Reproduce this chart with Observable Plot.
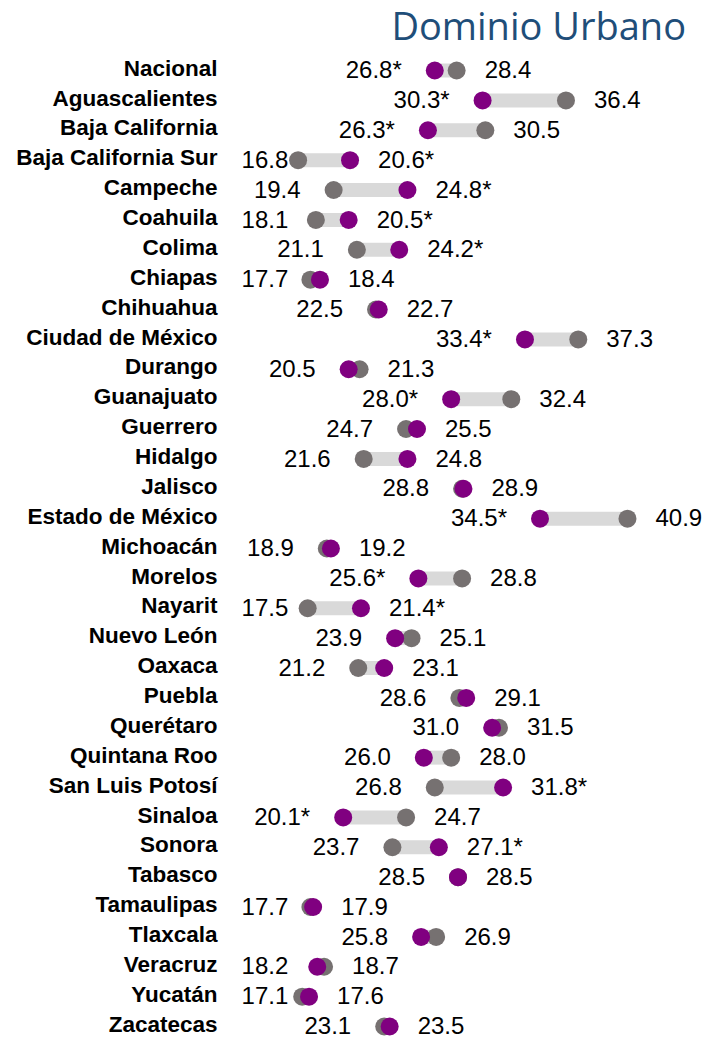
<!DOCTYPE html>
<html><head><meta charset="utf-8">
<script src="https://cdn.jsdelivr.net/npm/d3@7"></script>
<script src="https://cdn.jsdelivr.net/npm/@observablehq/plot@0.6"></script>
<style>
body{margin:0;background:#fff;}
#title{height:50px;width:705px;box-sizing:border-box;padding-right:19px;padding-top:2px;text-align:right;font-family:"Open Sans";font-size:38px;color:#1F4E79;line-height:46px;}
#chart svg{display:block;}
</style></head><body>
<div id="title">Dominio Urbano</div>
<div id="chart"></div>
<script>
const estados = ["Nacional","Aguascalientes","Baja California","Baja California Sur","Campeche","Coahuila","Colima","Chiapas","Chihuahua","Ciudad de México","Durango","Guanajuato","Guerrero","Hidalgo","Jalisco","Estado de México","Michoacán","Morelos","Nayarit","Nuevo León","Oaxaca","Puebla","Querétaro","Quintana Roo","San Luis Potosí","Sinaloa","Sonora","Tabasco","Tamaulipas","Tlaxcala","Veracruz","Yucatán","Zacatecas"];
const valorAnterior = [28.4,36.4,30.5,16.8,19.4,18.1,21.1,17.7,22.5,37.3,21.3,32.4,24.7,21.6,28.8,40.9,18.9,28.8,17.5,25.1,21.2,28.6,31.5,28.0,26.8,24.7,23.7,28.5,17.7,26.9,18.7,17.1,23.1];
const valorActual = [26.8,30.3,26.3,20.6,24.8,20.5,24.2,18.4,22.7,33.4,20.5,28.0,25.5,24.8,28.9,34.5,19.2,25.6,21.4,23.9,23.1,29.1,31.0,26.0,31.8,20.1,27.1,28.5,17.9,25.8,18.2,17.6,23.5];
const significativo = [true,true,true,true,true,true,true,false,false,true,false,true,false,false,false,true,false,true,true,false,false,false,false,false,true,true,true,false,false,false,false,false,false];

const fmt = d3.format(".1f");
const rows = estados.map((e, i) => ({estado: e, a: valorAnterior[i], b: valorActual[i], sig: significativo[i]}));
const lbl = (r, which) => which === "a" ? fmt(r.a) : fmt(r.b) + (r.sig ? "*" : "");
// left labels never extend past the left edge of the value area
const minAnchor = 18.5;
const lowLabels = rows.map(r => r.a <= r.b
  ? {estado: r.estado, v: Math.max(r.a, minAnchor), t: lbl(r, "a")}
  : {estado: r.estado, v: Math.max(r.b, minAnchor), t: lbl(r, "b")});
const highLabels = rows.map(r => r.a <= r.b ? {estado: r.estado, v: r.b, t: lbl(r, "b")} : {estado: r.estado, v: r.a, t: lbl(r, "a")});

const chart = Plot.plot({
  width: 705, height: 989,
  marginLeft: 273, marginRight: 63, marginTop: 20, marginBottom: 13,
  x: {domain: [15, 42], axis: null},
  y: {type: "point", domain: estados, padding: 0, round: false, axis: null},
  style: {fontFamily: "Liberation Sans", background: "white", color: "black"},
  marks: [
    Plot.text(rows, {y: "estado", text: "estado", frameAnchor: "left", textAnchor: "end", dx: -56, dy: -2, fontSize: 22.5, fontWeight: "bold", fill: "black"}),
    Plot.ruleY(rows, {y: "estado", x1: "a", x2: "b", stroke: "#d9d9d9", strokeWidth: 14}),
    Plot.dot(rows, {y: "estado", x: "a", r: 9, fill: "#767171"}),
    Plot.dot(rows, {y: "estado", x: "b", r: 9, fill: "#800080"}),
    Plot.text(lowLabels, {x: "v", y: "estado", text: "t", textAnchor: "end", dx: -33, fontSize: 24, fill: "black"}),
    Plot.text(highLabels, {x: "v", y: "estado", text: "t", textAnchor: "start", dx: 28, fontSize: 24, fill: "black"})
  ]
});
document.getElementById("chart").appendChild(chart);
</script>
</body></html>
